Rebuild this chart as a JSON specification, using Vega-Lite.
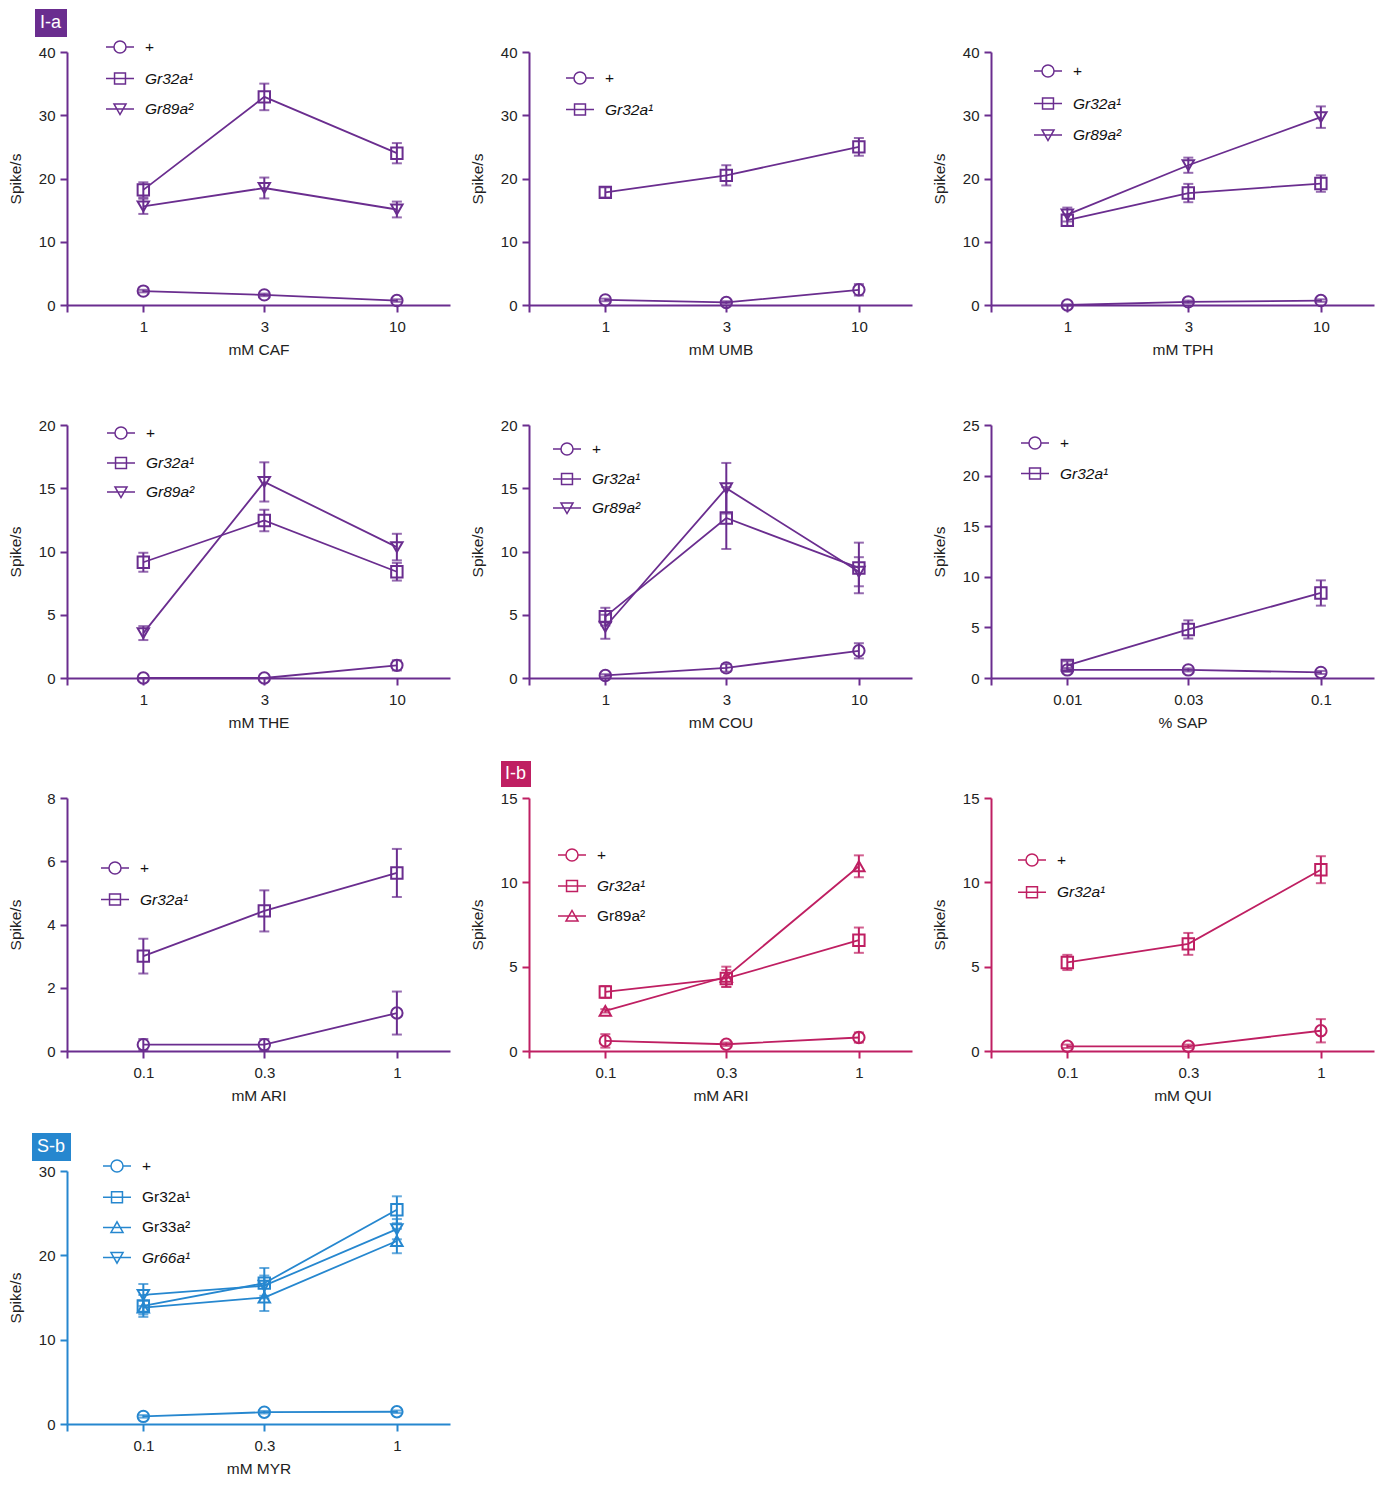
{
  "$schema": "https://vega.github.io/schema/vega-lite/v6.json",
  "padding": {"left": 8, "top": 9, "right": 5, "bottom": 5},
  "background": "white",
  "data": {"values": [
    {"p":"CAF","g":"+","c":1,"m":2.2,"e":0.2,"s":"I-a"},
    {"p":"CAF","g":"+","c":3,"m":1.6,"e":0.2,"s":"I-a"},
    {"p":"CAF","g":"+","c":10,"m":0.7,"e":0.2,"s":"I-a"},
    {"p":"CAF","g":"Gr32a¹","c":1,"m":18.2,"e":1.2,"s":"I-a"},
    {"p":"CAF","g":"Gr32a¹","c":3,"m":32.9,"e":2.1,"s":"I-a"},
    {"p":"CAF","g":"Gr32a¹","c":10,"m":24.0,"e":1.6,"s":"I-a"},
    {"p":"CAF","g":"Gr89a²","c":1,"m":15.6,"e":1.2,"s":"I-a"},
    {"p":"CAF","g":"Gr89a²","c":3,"m":18.5,"e":1.65,"s":"I-a"},
    {"p":"CAF","g":"Gr89a²","c":10,"m":15.1,"e":1.25,"s":"I-a"},
    {"p":"UMB","g":"+","c":1,"m":0.8,"e":0.2,"s":"I-a"},
    {"p":"UMB","g":"+","c":3,"m":0.4,"e":0.2,"s":"I-a"},
    {"p":"UMB","g":"+","c":10,"m":2.4,"e":0.9,"s":"I-a"},
    {"p":"UMB","g":"Gr32a¹","c":1,"m":17.8,"e":0.8,"s":"I-a"},
    {"p":"UMB","g":"Gr32a¹","c":3,"m":20.5,"e":1.6,"s":"I-a"},
    {"p":"UMB","g":"Gr32a¹","c":10,"m":25.0,"e":1.4,"s":"I-a"},
    {"p":"TPH","g":"+","c":1,"m":0.0,"e":0.1,"s":"I-a"},
    {"p":"TPH","g":"+","c":3,"m":0.5,"e":0.2,"s":"I-a"},
    {"p":"TPH","g":"+","c":10,"m":0.7,"e":0.2,"s":"I-a"},
    {"p":"TPH","g":"Gr32a¹","c":1,"m":13.4,"e":0.9,"s":"I-a"},
    {"p":"TPH","g":"Gr32a¹","c":3,"m":17.7,"e":1.45,"s":"I-a"},
    {"p":"TPH","g":"Gr32a¹","c":10,"m":19.2,"e":1.3,"s":"I-a"},
    {"p":"TPH","g":"Gr89a²","c":1,"m":14.3,"e":1.1,"s":"I-a"},
    {"p":"TPH","g":"Gr89a²","c":3,"m":22.1,"e":1.2,"s":"I-a"},
    {"p":"TPH","g":"Gr89a²","c":10,"m":29.7,"e":1.7,"s":"I-a"},
    {"p":"THE","g":"+","c":1,"m":0.0,"e":0.0,"s":"I-a"},
    {"p":"THE","g":"+","c":3,"m":0.0,"e":0.0,"s":"I-a"},
    {"p":"THE","g":"+","c":10,"m":1.0,"e":0.4,"s":"I-a"},
    {"p":"THE","g":"Gr32a¹","c":1,"m":9.15,"e":0.75,"s":"I-a"},
    {"p":"THE","g":"Gr32a¹","c":3,"m":12.45,"e":0.85,"s":"I-a"},
    {"p":"THE","g":"Gr32a¹","c":10,"m":8.4,"e":0.7,"s":"I-a"},
    {"p":"THE","g":"Gr89a²","c":1,"m":3.55,"e":0.55,"s":"I-a"},
    {"p":"THE","g":"Gr89a²","c":3,"m":15.5,"e":1.55,"s":"I-a"},
    {"p":"THE","g":"Gr89a²","c":10,"m":10.35,"e":1.05,"s":"I-a"},
    {"p":"COU","g":"+","c":1,"m":0.2,"e":0.1,"s":"I-a"},
    {"p":"COU","g":"+","c":3,"m":0.8,"e":0.3,"s":"I-a"},
    {"p":"COU","g":"+","c":10,"m":2.15,"e":0.6,"s":"I-a"},
    {"p":"COU","g":"Gr32a¹","c":1,"m":4.85,"e":0.7,"s":"I-a"},
    {"p":"COU","g":"Gr32a¹","c":3,"m":12.65,"e":2.45,"s":"I-a"},
    {"p":"COU","g":"Gr32a¹","c":10,"m":8.7,"e":2.0,"s":"I-a"},
    {"p":"COU","g":"Gr89a²","c":1,"m":4.05,"e":0.95,"s":"I-a"},
    {"p":"COU","g":"Gr89a²","c":3,"m":15.0,"e":2.0,"s":"I-a"},
    {"p":"COU","g":"Gr89a²","c":10,"m":8.4,"e":1.15,"s":"I-a"},
    {"p":"SAP","g":"+","c":0.01,"m":0.8,"e":0.2,"s":"I-a"},
    {"p":"SAP","g":"+","c":0.03,"m":0.8,"e":0.15,"s":"I-a"},
    {"p":"SAP","g":"+","c":0.1,"m":0.55,"e":0.15,"s":"I-a"},
    {"p":"SAP","g":"Gr32a¹","c":0.01,"m":1.25,"e":0.4,"s":"I-a"},
    {"p":"SAP","g":"Gr32a¹","c":0.03,"m":4.8,"e":0.9,"s":"I-a"},
    {"p":"SAP","g":"Gr32a¹","c":0.1,"m":8.4,"e":1.25,"s":"I-a"},
    {"p":"ARI1","g":"+","c":0.1,"m":0.2,"e":0.18,"s":"I-a"},
    {"p":"ARI1","g":"+","c":0.3,"m":0.2,"e":0.18,"s":"I-a"},
    {"p":"ARI1","g":"+","c":1,"m":1.2,"e":0.68,"s":"I-a"},
    {"p":"ARI1","g":"Gr32a¹","c":0.1,"m":3.0,"e":0.55,"s":"I-a"},
    {"p":"ARI1","g":"Gr32a¹","c":0.3,"m":4.43,"e":0.65,"s":"I-a"},
    {"p":"ARI1","g":"Gr32a¹","c":1,"m":5.63,"e":0.76,"s":"I-a"},
    {"p":"ARI2","g":"+","c":0.1,"m":0.6,"e":0.4,"s":"I-b"},
    {"p":"ARI2","g":"+","c":0.3,"m":0.4,"e":0.1,"s":"I-b"},
    {"p":"ARI2","g":"+","c":1,"m":0.8,"e":0.3,"s":"I-b"},
    {"p":"ARI2","g":"Gr32a¹","c":0.1,"m":3.5,"e":0.35,"s":"I-b"},
    {"p":"ARI2","g":"Gr32a¹","c":0.3,"m":4.3,"e":0.5,"s":"I-b"},
    {"p":"ARI2","g":"Gr32a¹","c":1,"m":6.57,"e":0.75,"s":"I-b"},
    {"p":"ARI2","g":"Gr89a²","c":0.1,"m":2.38,"e":0.1,"s":"I-b"},
    {"p":"ARI2","g":"Gr89a²","c":0.3,"m":4.4,"e":0.6,"s":"I-b"},
    {"p":"ARI2","g":"Gr89a²","c":1,"m":10.95,"e":0.65,"s":"I-b"},
    {"p":"QUI","g":"+","c":0.1,"m":0.28,"e":0.1,"s":"I-b"},
    {"p":"QUI","g":"+","c":0.3,"m":0.28,"e":0.1,"s":"I-b"},
    {"p":"QUI","g":"+","c":1,"m":1.2,"e":0.69,"s":"I-b"},
    {"p":"QUI","g":"Gr32a¹","c":0.1,"m":5.25,"e":0.45,"s":"I-b"},
    {"p":"QUI","g":"Gr32a¹","c":0.3,"m":6.35,"e":0.65,"s":"I-b"},
    {"p":"QUI","g":"Gr32a¹","c":1,"m":10.75,"e":0.8,"s":"I-b"},
    {"p":"MYR","g":"+","c":0.1,"m":0.9,"e":0.15,"s":"S-b"},
    {"p":"MYR","g":"+","c":0.3,"m":1.4,"e":0.15,"s":"S-b"},
    {"p":"MYR","g":"+","c":1,"m":1.45,"e":0.15,"s":"S-b"},
    {"p":"MYR","g":"Gr32a¹","c":0.1,"m":14.0,"e":1.3,"s":"S-b"},
    {"p":"MYR","g":"Gr32a¹","c":0.3,"m":16.7,"e":1.8,"s":"S-b"},
    {"p":"MYR","g":"Gr32a¹","c":1,"m":25.4,"e":1.6,"s":"S-b"},
    {"p":"MYR","g":"Gr33a²","c":0.1,"m":13.8,"e":0.8,"s":"S-b"},
    {"p":"MYR","g":"Gr33a²","c":0.3,"m":15.0,"e":1.6,"s":"S-b"},
    {"p":"MYR","g":"Gr33a²","c":1,"m":21.7,"e":1.45,"s":"S-b"},
    {"p":"MYR","g":"Gr66a¹","c":0.1,"m":15.3,"e":1.3,"s":"S-b"},
    {"p":"MYR","g":"Gr66a¹","c":0.3,"m":16.4,"e":1.2,"s":"S-b"},
    {"p":"MYR","g":"Gr66a¹","c":1,"m":23.1,"e":1.2,"s":"S-b"}
  ]},
  "columns": 3,
  "spacing": {"row": 120, "column": 79},
  "bounds": "flush",
  "resolve": {"scale": {"shape": "independent", "fill": "independent"}, "legend": {"shape": "independent", "fill": "independent"}},
  "concat": [
    {
      "width": 383, "height": 253,
      "transform": [{"filter": "datum.p === 'CAF'"}],
      "resolve": {"scale": {"shape": "independent"}, "legend": {"shape": "independent"}},
      "encoding": {
        "x": {"field": "c", "type": "quantitative", "scale": {"type": "log", "domain": [0.5, 16.2], "nice": false}, "axis": {"title": "mM CAF", "values": [0.5, 1, 3, 10], "format": "~g", "labelExpr": "datum.value < 0.6 ? '' : datum.label", "domainColor": "#6a2d8f", "tickColor": "#6a2d8f"}},
        "y": {"field": "m", "type": "quantitative", "scale": {"domain": [0, 40], "nice": false}, "axis": {"title": "Spike/s", "values": [0, 10, 20, 30, 40], "domainColor": "#6a2d8f", "tickColor": "#6a2d8f"}}
      },
      "layer": [
        {"mark": {"type": "errorbar", "color": "#6a2d8f", "thickness": 2, "ticks": {"size": 10, "thickness": 2}}, "encoding": {"yError": {"field": "e"}}},
        {"mark": {"type": "line", "color": "#6a2d8f", "strokeWidth": 1.8}, "encoding": {"detail": {"field": "g"}}},
        {"mark": {"type": "point", "filled": false, "color": "#6a2d8f", "strokeWidth": 2, "size": 130, "opacity": 1},
         "encoding": {"shape": {"field": "g", "type": "nominal", "scale": {"domain": ["+", "Gr32a¹", "Gr89a²"], "range": ["circle", "square", "triangle-down"]}, "legend": null}}},
        {"mark": {"type": "point", "filled": false, "color": "#6a2d8f", "opacity": 0},
         "encoding": {"shape": {"field": "g", "type": "nominal",
           "scale": {"domain": ["+", "Gr32a¹", "Gr89a²"], "range": ["M-1,0H-0.43M0.43,0H1M-0.43,0A0.43,0.43,0,1,1,0.43,0A0.43,0.43,0,1,1,-0.43,0", "M-1,0H1M-0.39,-0.39H0.39V0.39H-0.39Z", "M-1,0H1M-0.43,-0.36H0.43L0,0.4Z"]},
           "legend": {"orient": "none", "legendX": 38, "legendY": -20, "title": null, "padding": 0, "rowPadding": 6.5, "symbolSize": 784, "symbolOpacity": 1, "symbolStrokeColor": "#6a2d8f", "symbolStrokeWidth": 1.5, "symbolFillColor": "transparent", "labelFontSize": 15.5, "labelFontStyle": {"expr": "datum.label === '+' ? 'normal' : 'italic'"}, "labelOffset": 10, "labelColor": "#111", "labelLimit": 300}}}},
        {"mark": {"type": "point", "opacity": 0},
         "encoding": {"fill": {"field": "s", "type": "nominal", "scale": {"range": ["#6a2d8f"]},
           "legend": {"orient": "none", "legendX": -32, "legendY": -43, "title": null, "fillColor": "#6a2d8f", "padding": 5, "symbolSize": 0, "symbolOpacity": 0, "symbolStrokeWidth": 0, "labelOffset": -18, "labelColor": "#ffffff", "labelFontSize": 18, "cornerRadius": 0}}}}
      ]
    },
    {
      "width": 383, "height": 253,
      "transform": [{"filter": "datum.p === 'UMB'"}],
      "resolve": {"scale": {"shape": "independent"}, "legend": {"shape": "independent"}},
      "encoding": {
        "x": {"field": "c", "type": "quantitative", "scale": {"type": "log", "domain": [0.5, 16.2], "nice": false}, "axis": {"title": "mM UMB", "values": [0.5, 1, 3, 10], "format": "~g", "labelExpr": "datum.value < 0.6 ? '' : datum.label", "domainColor": "#6a2d8f", "tickColor": "#6a2d8f"}},
        "y": {"field": "m", "type": "quantitative", "scale": {"domain": [0, 40], "nice": false}, "axis": {"title": "Spike/s", "values": [0, 10, 20, 30, 40], "domainColor": "#6a2d8f", "tickColor": "#6a2d8f"}}
      },
      "layer": [
        {"mark": {"type": "errorbar", "color": "#6a2d8f", "thickness": 2, "ticks": {"size": 10, "thickness": 2}}, "encoding": {"yError": {"field": "e"}}},
        {"mark": {"type": "line", "color": "#6a2d8f", "strokeWidth": 1.8}, "encoding": {"detail": {"field": "g"}}},
        {"mark": {"type": "point", "filled": false, "color": "#6a2d8f", "strokeWidth": 2, "size": 130, "opacity": 1},
         "encoding": {"shape": {"field": "g", "type": "nominal", "scale": {"domain": ["+", "Gr32a¹"], "range": ["circle", "square"]}, "legend": null}}},
        {"mark": {"type": "point", "filled": false, "color": "#6a2d8f", "opacity": 0},
         "encoding": {"shape": {"field": "g", "type": "nominal",
           "scale": {"domain": ["+", "Gr32a¹"], "range": ["M-1,0H-0.43M0.43,0H1M-0.43,0A0.43,0.43,0,1,1,0.43,0A0.43,0.43,0,1,1,-0.43,0", "M-1,0H1M-0.39,-0.39H0.39V0.39H-0.39Z"]},
           "legend": {"orient": "none", "legendX": 36, "legendY": 11, "title": null, "padding": 0, "rowPadding": 6.5, "symbolSize": 784, "symbolOpacity": 1, "symbolStrokeColor": "#6a2d8f", "symbolStrokeWidth": 1.5, "symbolFillColor": "transparent", "labelFontSize": 15.5, "labelFontStyle": {"expr": "datum.label === '+' ? 'normal' : 'italic'"}, "labelOffset": 10, "labelColor": "#111", "labelLimit": 300}}}}
      ]
    },
    {
      "width": 383, "height": 253,
      "transform": [{"filter": "datum.p === 'TPH'"}],
      "resolve": {"scale": {"shape": "independent"}, "legend": {"shape": "independent"}},
      "encoding": {
        "x": {"field": "c", "type": "quantitative", "scale": {"type": "log", "domain": [0.5, 16.2], "nice": false}, "axis": {"title": "mM TPH", "values": [0.5, 1, 3, 10], "format": "~g", "labelExpr": "datum.value < 0.6 ? '' : datum.label", "domainColor": "#6a2d8f", "tickColor": "#6a2d8f"}},
        "y": {"field": "m", "type": "quantitative", "scale": {"domain": [0, 40], "nice": false}, "axis": {"title": "Spike/s", "values": [0, 10, 20, 30, 40], "domainColor": "#6a2d8f", "tickColor": "#6a2d8f"}}
      },
      "layer": [
        {"mark": {"type": "errorbar", "color": "#6a2d8f", "thickness": 2, "ticks": {"size": 10, "thickness": 2}}, "encoding": {"yError": {"field": "e"}}},
        {"mark": {"type": "line", "color": "#6a2d8f", "strokeWidth": 1.8}, "encoding": {"detail": {"field": "g"}}},
        {"mark": {"type": "point", "filled": false, "color": "#6a2d8f", "strokeWidth": 2, "size": 130, "opacity": 1},
         "encoding": {"shape": {"field": "g", "type": "nominal", "scale": {"domain": ["+", "Gr32a¹", "Gr89a²"], "range": ["circle", "square", "triangle-down"]}, "legend": null}}},
        {"mark": {"type": "point", "filled": false, "color": "#6a2d8f", "opacity": 0},
         "encoding": {"shape": {"field": "g", "type": "nominal",
           "scale": {"domain": ["+", "Gr32a¹", "Gr89a²"], "range": ["M-1,0H-0.43M0.43,0H1M-0.43,0A0.43,0.43,0,1,1,0.43,0A0.43,0.43,0,1,1,-0.43,0", "M-1,0H1M-0.39,-0.39H0.39V0.39H-0.39Z", "M-1,0H1M-0.43,-0.36H0.43L0,0.4Z"]},
           "legend": {"orient": "none", "legendX": 42, "legendY": 4, "title": null, "padding": 0, "rowPadding": 7.5, "symbolSize": 784, "symbolOpacity": 1, "symbolStrokeColor": "#6a2d8f", "symbolStrokeWidth": 1.5, "symbolFillColor": "transparent", "labelFontSize": 15.5, "labelFontStyle": {"expr": "datum.label === '+' ? 'normal' : 'italic'"}, "labelOffset": 10, "labelColor": "#111", "labelLimit": 300}}}}
      ]
    },
    {
      "width": 383, "height": 253,
      "transform": [{"filter": "datum.p === 'THE'"}],
      "resolve": {"scale": {"shape": "independent"}, "legend": {"shape": "independent"}},
      "encoding": {
        "x": {"field": "c", "type": "quantitative", "scale": {"type": "log", "domain": [0.5, 16.2], "nice": false}, "axis": {"title": "mM THE", "values": [0.5, 1, 3, 10], "format": "~g", "labelExpr": "datum.value < 0.6 ? '' : datum.label", "domainColor": "#6a2d8f", "tickColor": "#6a2d8f"}},
        "y": {"field": "m", "type": "quantitative", "scale": {"domain": [0, 20], "nice": false}, "axis": {"title": "Spike/s", "values": [0, 5, 10, 15, 20], "domainColor": "#6a2d8f", "tickColor": "#6a2d8f"}}
      },
      "layer": [
        {"mark": {"type": "errorbar", "color": "#6a2d8f", "thickness": 2, "ticks": {"size": 10, "thickness": 2}}, "encoding": {"yError": {"field": "e"}}},
        {"mark": {"type": "line", "color": "#6a2d8f", "strokeWidth": 1.8}, "encoding": {"detail": {"field": "g"}}},
        {"mark": {"type": "point", "filled": false, "color": "#6a2d8f", "strokeWidth": 2, "size": 130, "opacity": 1},
         "encoding": {"shape": {"field": "g", "type": "nominal", "scale": {"domain": ["+", "Gr32a¹", "Gr89a²"], "range": ["circle", "square", "triangle-down"]}, "legend": null}}},
        {"mark": {"type": "point", "filled": false, "color": "#6a2d8f", "opacity": 0},
         "encoding": {"shape": {"field": "g", "type": "nominal",
           "scale": {"domain": ["+", "Gr32a¹", "Gr89a²"], "range": ["M-1,0H-0.43M0.43,0H1M-0.43,0A0.43,0.43,0,1,1,0.43,0A0.43,0.43,0,1,1,-0.43,0", "M-1,0H1M-0.39,-0.39H0.39V0.39H-0.39Z", "M-1,0H1M-0.43,-0.36H0.43L0,0.4Z"]},
           "legend": {"orient": "none", "legendX": 39, "legendY": -7, "title": null, "padding": 0, "rowPadding": 5, "symbolSize": 784, "symbolOpacity": 1, "symbolStrokeColor": "#6a2d8f", "symbolStrokeWidth": 1.5, "symbolFillColor": "transparent", "labelFontSize": 15.5, "labelFontStyle": {"expr": "datum.label === '+' ? 'normal' : 'italic'"}, "labelOffset": 10, "labelColor": "#111", "labelLimit": 300}}}}
      ]
    },
    {
      "width": 383, "height": 253,
      "transform": [{"filter": "datum.p === 'COU'"}],
      "resolve": {"scale": {"shape": "independent"}, "legend": {"shape": "independent"}},
      "encoding": {
        "x": {"field": "c", "type": "quantitative", "scale": {"type": "log", "domain": [0.5, 16.2], "nice": false}, "axis": {"title": "mM COU", "values": [0.5, 1, 3, 10], "format": "~g", "labelExpr": "datum.value < 0.6 ? '' : datum.label", "domainColor": "#6a2d8f", "tickColor": "#6a2d8f"}},
        "y": {"field": "m", "type": "quantitative", "scale": {"domain": [0, 20], "nice": false}, "axis": {"title": "Spike/s", "values": [0, 5, 10, 15, 20], "domainColor": "#6a2d8f", "tickColor": "#6a2d8f"}}
      },
      "layer": [
        {"mark": {"type": "errorbar", "color": "#6a2d8f", "thickness": 2, "ticks": {"size": 10, "thickness": 2}}, "encoding": {"yError": {"field": "e"}}},
        {"mark": {"type": "line", "color": "#6a2d8f", "strokeWidth": 1.8}, "encoding": {"detail": {"field": "g"}}},
        {"mark": {"type": "point", "filled": false, "color": "#6a2d8f", "strokeWidth": 2, "size": 130, "opacity": 1},
         "encoding": {"shape": {"field": "g", "type": "nominal", "scale": {"domain": ["+", "Gr32a¹", "Gr89a²"], "range": ["circle", "square", "triangle-down"]}, "legend": null}}},
        {"mark": {"type": "point", "filled": false, "color": "#6a2d8f", "opacity": 0},
         "encoding": {"shape": {"field": "g", "type": "nominal",
           "scale": {"domain": ["+", "Gr32a¹", "Gr89a²"], "range": ["M-1,0H-0.43M0.43,0H1M-0.43,0A0.43,0.43,0,1,1,0.43,0A0.43,0.43,0,1,1,-0.43,0", "M-1,0H1M-0.39,-0.39H0.39V0.39H-0.39Z", "M-1,0H1M-0.43,-0.36H0.43L0,0.4Z"]},
           "legend": {"orient": "none", "legendX": 23, "legendY": 9, "title": null, "padding": 0, "rowPadding": 5, "symbolSize": 784, "symbolOpacity": 1, "symbolStrokeColor": "#6a2d8f", "symbolStrokeWidth": 1.5, "symbolFillColor": "transparent", "labelFontSize": 15.5, "labelFontStyle": {"expr": "datum.label === '+' ? 'normal' : 'italic'"}, "labelOffset": 10, "labelColor": "#111", "labelLimit": 300}}}}
      ]
    },
    {
      "width": 383, "height": 253,
      "transform": [{"filter": "datum.p === 'SAP'"}],
      "resolve": {"scale": {"shape": "independent"}, "legend": {"shape": "independent"}},
      "encoding": {
        "x": {"field": "c", "type": "quantitative", "scale": {"type": "log", "domain": [0.005, 0.162], "nice": false}, "axis": {"title": "% SAP", "values": [0.005, 0.01, 0.03, 0.1], "format": "~g", "labelExpr": "datum.value < 0.006 ? '' : datum.label", "domainColor": "#6a2d8f", "tickColor": "#6a2d8f"}},
        "y": {"field": "m", "type": "quantitative", "scale": {"domain": [0, 25], "nice": false}, "axis": {"title": "Spike/s", "values": [0, 5, 10, 15, 20, 25], "domainColor": "#6a2d8f", "tickColor": "#6a2d8f"}}
      },
      "layer": [
        {"mark": {"type": "errorbar", "color": "#6a2d8f", "thickness": 2, "ticks": {"size": 10, "thickness": 2}}, "encoding": {"yError": {"field": "e"}}},
        {"mark": {"type": "line", "color": "#6a2d8f", "strokeWidth": 1.8}, "encoding": {"detail": {"field": "g"}}},
        {"mark": {"type": "point", "filled": false, "color": "#6a2d8f", "strokeWidth": 2, "size": 130, "opacity": 1},
         "encoding": {"shape": {"field": "g", "type": "nominal", "scale": {"domain": ["+", "Gr32a¹"], "range": ["circle", "square"]}, "legend": null}}},
        {"mark": {"type": "point", "filled": false, "color": "#6a2d8f", "opacity": 0},
         "encoding": {"shape": {"field": "g", "type": "nominal",
           "scale": {"domain": ["+", "Gr32a¹"], "range": ["M-1,0H-0.43M0.43,0H1M-0.43,0A0.43,0.43,0,1,1,0.43,0A0.43,0.43,0,1,1,-0.43,0", "M-1,0H1M-0.39,-0.39H0.39V0.39H-0.39Z"]},
           "legend": {"orient": "none", "legendX": 29, "legendY": 3, "title": null, "padding": 0, "rowPadding": 5.5, "symbolSize": 784, "symbolOpacity": 1, "symbolStrokeColor": "#6a2d8f", "symbolStrokeWidth": 1.5, "symbolFillColor": "transparent", "labelFontSize": 15.5, "labelFontStyle": {"expr": "datum.label === '+' ? 'normal' : 'italic'"}, "labelOffset": 10, "labelColor": "#111", "labelLimit": 300}}}}
      ]
    },
    {
      "width": 383, "height": 253,
      "transform": [{"filter": "datum.p === 'ARI1'"}],
      "resolve": {"scale": {"shape": "independent"}, "legend": {"shape": "independent"}},
      "encoding": {
        "x": {"field": "c", "type": "quantitative", "scale": {"type": "log", "domain": [0.05, 1.62], "nice": false}, "axis": {"title": "mM ARI", "values": [0.05, 0.1, 0.3, 1], "format": "~g", "labelExpr": "datum.value < 0.06 ? '' : datum.label", "domainColor": "#6a2d8f", "tickColor": "#6a2d8f"}},
        "y": {"field": "m", "type": "quantitative", "scale": {"domain": [0, 8], "nice": false}, "axis": {"title": "Spike/s", "values": [0, 2, 4, 6, 8], "domainColor": "#6a2d8f", "tickColor": "#6a2d8f"}}
      },
      "layer": [
        {"mark": {"type": "errorbar", "color": "#6a2d8f", "thickness": 2, "ticks": {"size": 10, "thickness": 2}}, "encoding": {"yError": {"field": "e"}}},
        {"mark": {"type": "line", "color": "#6a2d8f", "strokeWidth": 1.8}, "encoding": {"detail": {"field": "g"}}},
        {"mark": {"type": "point", "filled": false, "color": "#6a2d8f", "strokeWidth": 2, "size": 130, "opacity": 1},
         "encoding": {"shape": {"field": "g", "type": "nominal", "scale": {"domain": ["+", "Gr32a¹"], "range": ["circle", "square"]}, "legend": null}}},
        {"mark": {"type": "point", "filled": false, "color": "#6a2d8f", "opacity": 0},
         "encoding": {"shape": {"field": "g", "type": "nominal",
           "scale": {"domain": ["+", "Gr32a¹"], "range": ["M-1,0H-0.43M0.43,0H1M-0.43,0A0.43,0.43,0,1,1,0.43,0A0.43,0.43,0,1,1,-0.43,0", "M-1,0H1M-0.39,-0.39H0.39V0.39H-0.39Z"]},
           "legend": {"orient": "none", "legendX": 33, "legendY": 55, "title": null, "padding": 0, "rowPadding": 6.5, "symbolSize": 784, "symbolOpacity": 1, "symbolStrokeColor": "#6a2d8f", "symbolStrokeWidth": 1.5, "symbolFillColor": "transparent", "labelFontSize": 15.5, "labelFontStyle": {"expr": "datum.label === '+' ? 'normal' : 'italic'"}, "labelOffset": 10, "labelColor": "#111", "labelLimit": 300}}}}
      ]
    },
    {
      "width": 383, "height": 253,
      "transform": [{"filter": "datum.p === 'ARI2'"}],
      "resolve": {"scale": {"shape": "independent"}, "legend": {"shape": "independent"}},
      "encoding": {
        "x": {"field": "c", "type": "quantitative", "scale": {"type": "log", "domain": [0.05, 1.62], "nice": false}, "axis": {"title": "mM ARI", "values": [0.05, 0.1, 0.3, 1], "format": "~g", "labelExpr": "datum.value < 0.06 ? '' : datum.label", "domainColor": "#bf1f62", "tickColor": "#bf1f62"}},
        "y": {"field": "m", "type": "quantitative", "scale": {"domain": [0, 15], "nice": false}, "axis": {"title": "Spike/s", "values": [0, 5, 10, 15], "domainColor": "#bf1f62", "tickColor": "#bf1f62"}}
      },
      "layer": [
        {"mark": {"type": "errorbar", "color": "#bf1f62", "thickness": 2, "ticks": {"size": 10, "thickness": 2}}, "encoding": {"yError": {"field": "e"}}},
        {"mark": {"type": "line", "color": "#bf1f62", "strokeWidth": 1.8}, "encoding": {"detail": {"field": "g"}}},
        {"mark": {"type": "point", "filled": false, "color": "#bf1f62", "strokeWidth": 2, "size": 130, "opacity": 1},
         "encoding": {"shape": {"field": "g", "type": "nominal", "scale": {"domain": ["+", "Gr32a¹", "Gr89a²"], "range": ["circle", "square", "triangle-up"]}, "legend": null}}},
        {"mark": {"type": "point", "filled": false, "color": "#bf1f62", "opacity": 0},
         "encoding": {"shape": {"field": "g", "type": "nominal",
           "scale": {"domain": ["+", "Gr32a¹", "Gr89a²"], "range": ["M-1,0H-0.43M0.43,0H1M-0.43,0A0.43,0.43,0,1,1,0.43,0A0.43,0.43,0,1,1,-0.43,0", "M-1,0H1M-0.39,-0.39H0.39V0.39H-0.39Z", "M-1,0H1M-0.43,0.36H0.43L0,-0.4Z"]},
           "legend": {"orient": "none", "legendX": 28, "legendY": 42, "title": null, "padding": 0, "rowPadding": 6, "symbolSize": 784, "symbolOpacity": 1, "symbolStrokeColor": "#bf1f62", "symbolStrokeWidth": 1.5, "symbolFillColor": "transparent", "labelFontSize": 15.5, "labelFontStyle": {"expr": "datum.label === 'Gr32a¹' ? 'italic' : 'normal'"}, "labelOffset": 10, "labelColor": "#111", "labelLimit": 300}}}},
        {"mark": {"type": "point", "opacity": 0},
         "encoding": {"fill": {"field": "s", "type": "nominal", "scale": {"range": ["#bf1f62"]},
           "legend": {"orient": "none", "legendX": -28, "legendY": -37, "title": null, "fillColor": "#bf1f62", "padding": 4, "symbolSize": 0, "symbolOpacity": 0, "symbolStrokeWidth": 0, "labelOffset": -18, "labelColor": "#ffffff", "labelFontSize": 18, "cornerRadius": 0}}}}
      ]
    },
    {
      "width": 383, "height": 253,
      "transform": [{"filter": "datum.p === 'QUI'"}],
      "resolve": {"scale": {"shape": "independent"}, "legend": {"shape": "independent"}},
      "encoding": {
        "x": {"field": "c", "type": "quantitative", "scale": {"type": "log", "domain": [0.05, 1.62], "nice": false}, "axis": {"title": "mM QUI", "values": [0.05, 0.1, 0.3, 1], "format": "~g", "labelExpr": "datum.value < 0.06 ? '' : datum.label", "domainColor": "#bf1f62", "tickColor": "#bf1f62"}},
        "y": {"field": "m", "type": "quantitative", "scale": {"domain": [0, 15], "nice": false}, "axis": {"title": "Spike/s", "values": [0, 5, 10, 15], "domainColor": "#bf1f62", "tickColor": "#bf1f62"}}
      },
      "layer": [
        {"mark": {"type": "errorbar", "color": "#bf1f62", "thickness": 2, "ticks": {"size": 10, "thickness": 2}}, "encoding": {"yError": {"field": "e"}}},
        {"mark": {"type": "line", "color": "#bf1f62", "strokeWidth": 1.8}, "encoding": {"detail": {"field": "g"}}},
        {"mark": {"type": "point", "filled": false, "color": "#bf1f62", "strokeWidth": 2, "size": 130, "opacity": 1},
         "encoding": {"shape": {"field": "g", "type": "nominal", "scale": {"domain": ["+", "Gr32a¹"], "range": ["circle", "square"]}, "legend": null}}},
        {"mark": {"type": "point", "filled": false, "color": "#bf1f62", "opacity": 0},
         "encoding": {"shape": {"field": "g", "type": "nominal",
           "scale": {"domain": ["+", "Gr32a¹"], "range": ["M-1,0H-0.43M0.43,0H1M-0.43,0A0.43,0.43,0,1,1,0.43,0A0.43,0.43,0,1,1,-0.43,0", "M-1,0H1M-0.39,-0.39H0.39V0.39H-0.39Z"]},
           "legend": {"orient": "none", "legendX": 26, "legendY": 47, "title": null, "padding": 0, "rowPadding": 7.2, "symbolSize": 784, "symbolOpacity": 1, "symbolStrokeColor": "#bf1f62", "symbolStrokeWidth": 1.5, "symbolFillColor": "transparent", "labelFontSize": 15.5, "labelFontStyle": {"expr": "datum.label === '+' ? 'normal' : 'italic'"}, "labelOffset": 10, "labelColor": "#111", "labelLimit": 300}}}}
      ]
    },
    {
      "width": 383, "height": 253,
      "transform": [{"filter": "datum.p === 'MYR'"}],
      "resolve": {"scale": {"shape": "independent"}, "legend": {"shape": "independent"}},
      "encoding": {
        "x": {"field": "c", "type": "quantitative", "scale": {"type": "log", "domain": [0.05, 1.62], "nice": false}, "axis": {"title": "mM MYR", "values": [0.05, 0.1, 0.3, 1], "format": "~g", "labelExpr": "datum.value < 0.06 ? '' : datum.label", "domainColor": "#2687cf", "tickColor": "#2687cf"}},
        "y": {"field": "m", "type": "quantitative", "scale": {"domain": [0, 30], "nice": false}, "axis": {"title": "Spike/s", "values": [0, 10, 20, 30], "domainColor": "#2687cf", "tickColor": "#2687cf"}}
      },
      "layer": [
        {"mark": {"type": "errorbar", "color": "#2687cf", "thickness": 2, "ticks": {"size": 10, "thickness": 2}}, "encoding": {"yError": {"field": "e"}}},
        {"mark": {"type": "line", "color": "#2687cf", "strokeWidth": 1.8}, "encoding": {"detail": {"field": "g"}}},
        {"mark": {"type": "point", "filled": false, "color": "#2687cf", "strokeWidth": 2, "size": 130, "opacity": 1},
         "encoding": {"shape": {"field": "g", "type": "nominal", "scale": {"domain": ["+", "Gr32a¹", "Gr33a²", "Gr66a¹"], "range": ["circle", "square", "triangle-up", "triangle-down"]}, "legend": null}}},
        {"mark": {"type": "point", "filled": false, "color": "#2687cf", "opacity": 0},
         "encoding": {"shape": {"field": "g", "type": "nominal",
           "scale": {"domain": ["+", "Gr32a¹", "Gr33a²", "Gr66a¹"], "range": ["M-1,0H-0.43M0.43,0H1M-0.43,0A0.43,0.43,0,1,1,0.43,0A0.43,0.43,0,1,1,-0.43,0", "M-1,0H1M-0.39,-0.39H0.39V0.39H-0.39Z", "M-1,0H1M-0.43,0.36H0.43L0,-0.4Z", "M-1,0H1M-0.43,-0.36H0.43L0,0.4Z"]},
           "legend": {"orient": "none", "legendX": 35, "legendY": -20, "title": null, "padding": 0, "rowPadding": 6.2, "symbolSize": 784, "symbolOpacity": 1, "symbolStrokeColor": "#2687cf", "symbolStrokeWidth": 1.5, "symbolFillColor": "transparent", "labelFontSize": 15.5, "labelFontStyle": {"expr": "datum.label === 'Gr66a¹' ? 'italic' : 'normal'"}, "labelOffset": 10, "labelColor": "#111", "labelLimit": 300}}}},
        {"mark": {"type": "point", "opacity": 0},
         "encoding": {"fill": {"field": "s", "type": "nominal", "scale": {"range": ["#2687cf"]},
           "legend": {"orient": "none", "legendX": -35, "legendY": -38, "title": null, "fillColor": "#2687cf", "padding": 5, "symbolSize": 0, "symbolOpacity": 0, "symbolStrokeWidth": 0, "labelOffset": -18, "labelColor": "#ffffff", "labelFontSize": 18, "cornerRadius": 0}}}}
      ]
    }
  ],
  "config": {
    "font": "Liberation Sans",
    "view": {"stroke": null},
    "axis": {"grid": false, "domainWidth": 2, "tickWidth": 2, "tickSize": 7, "labelFontSize": 15, "labelColor": "#222", "titleFontSize": 15.5, "titleFontWeight": "normal", "titleColor": "#222", "labelPadding": 7, "titlePadding": 8},
    "axisY": {"titleFontSize": 15.5, "titleX": -44, "labelPadding": 5},
    "legend": {"labelFont": "Liberation Sans"}
  }
}
